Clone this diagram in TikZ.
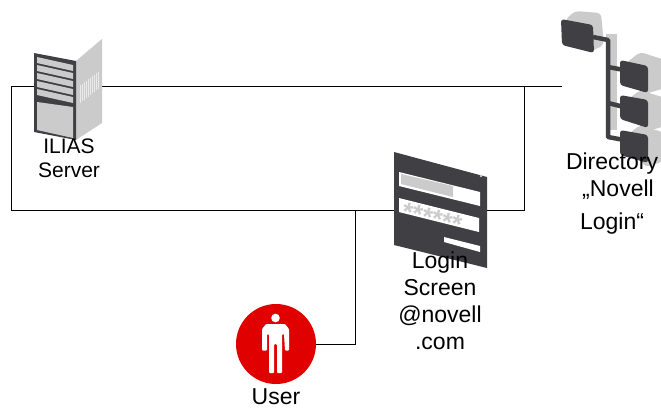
\documentclass[tikz,border=0pt]{standalone}
\usepackage{fontspec}
\setmainfont{Liberation Sans}
\definecolor{icondark}{HTML}{403F43}
\definecolor{iconlight}{HTML}{CBCBCB}
\definecolor{userred}{HTML}{E00000}

\begin{document}
\begin{tikzpicture}[x=1pt, y=-1pt, line width=0.7pt,
  iconbox/.style={inner sep=0pt, outer sep=0pt},
  caption/.style={align=center, inner sep=0pt, font=\fontsize{23}{27}\selectfont}]

\useasboundingbox (0,0) rectangle (661,408);

  % Nodes
  \node (server) [iconbox, minimum width=68pt, minimum height=108pt] at (68,86) {};
  \node (directory) [iconbox, minimum width=100pt, minimum height=100pt] at (612,86) {};
  \node (login) [iconbox, minimum width=93pt, minimum height=116pt] at (440.5,210) {};
  \node (user) [iconbox, circle, fill=userred, minimum size=80pt] at (276,344) {};
  \coordinate (leftcorner) at (11,210);
  \coordinate (toptap) at (524,86);
  \coordinate (bottomtap) at (355,210);

  % Arrows
  \draw (server.west) -| (leftcorner) -- (login.west);
  \draw (server.east) -- (directory.west);
  \draw (login.east) -| (toptap);
  \draw (user.east) -| (bottomtap);

  % Server icon
  \fill[iconlight] (76,61) -- (102,39) -- (102,123) -- (76,140) -- cycle;
  \foreach \gx in {80,82,...,98}
    \draw[white!60!iconlight, line width=0.9pt] (\gx,{85-(\gx-80)*0.75}) -- (\gx,{103-(\gx-80)*0.8});
  \fill[icondark] (34,53) -- (76,61) -- (76,140) -- (34,132) -- cycle;
  \foreach \sy in {57,65,73,81,89}
    \fill[iconlight] (37,\sy) -- (73,\sy+8) -- (73,\sy+14) -- (37,\sy+6) -- cycle;
  \fill[iconlight] (37,102) -- (73,107) -- (73,138) -- (37,130) -- cycle;

  % Directory icon
  \fill[iconlight, rounded corners=4pt] (565,20) -- (575,11) -- (601,13) -- (604,45) -- (590,52) -- cycle;
  \fill[iconlight] (606,34) rectangle (617,130);
  \foreach \cy in {52,90,125}
    \fill[iconlight, rounded corners=4pt] (625,\cy+12) -- (640,\cy) -- (665,\cy+8) -- (665,\cy+36) -- (645,\cy+42) -- cycle;
  \draw[icondark, line width=4.5pt, line join=round] (593,37) -- (608,40) -- (608,137) -- (624,140);
  \draw[icondark, line width=4.5pt] (608,67) -- (624,70);
  \draw[icondark, line width=4.5pt] (608,103) -- (624,107);
  \fill[icondark, rounded corners=3pt] (561,19) -- (593,25) -- (594,53) -- (562,45) -- cycle;
  \fill[icondark, rounded corners=3pt] (620,60) -- (648,66) -- (648,93) -- (620,85) -- cycle;
  \fill[icondark, rounded corners=3pt] (620,95) -- (648,100) -- (648,128) -- (620,119) -- cycle;
  \fill[icondark, rounded corners=3pt] (620,130) -- (648,135) -- (648,163) -- (620,155) -- cycle;

  % Login icon
  \fill[icondark] (394,152) -- (487,177) -- (487,268) -- (394,245) -- cycle;
  \fill[white] (399,172) -- (480,192) -- (480,206) -- (399,186) -- cycle;
  \fill[iconlight] (401,174) -- (453,186) -- (453,197) -- (401,184) -- cycle;
  \fill[white] (399,198) -- (479,218) -- (479,232) -- (399,212) -- cycle;
  \node (stars) [rotate=-14, inner sep=0pt, text=iconlight, font=\fontsize{26}{26}\selectfont\bfseries] at (432,218) {******};
  \fill[white] (444,237) -- (480,246) -- (480,252) -- (444,242) -- cycle;
  \fill[iconlight] (481,176) circle (1.3);

  % User figure
  \fill[white] (275.5,318) circle (4.3);
  \fill[white, rounded corners=1pt] (266,324) -- (285,324) -- (289,329) -- (289,350.5) -- (285,350.5) -- (284,334)
    -- (282,334) -- (282,373) -- (277,373) -- (277,344) -- (274,344) -- (274,373) -- (269,373) -- (269,334)
    -- (267,334) -- (267,350.5) -- (262,350.5) -- (262,329) -- cycle;

  % Labels
  \node (servertext) [caption, font=\fontsize{21}{24}\selectfont, anchor=base] at (69,177) {ILIAS\\Server};
  \node (directorytext) [caption, anchor=center] at (612,194) {Directory\\\hspace*{12pt}„Novell\\[6pt]Login“};
  \node (logintext) [caption, anchor=center] at (440,301) {Login\\Screen\\@novell\\.com};
  \node (usertext) [caption, anchor=base] at (276,404) {User};

\end{tikzpicture}
\end{document}
